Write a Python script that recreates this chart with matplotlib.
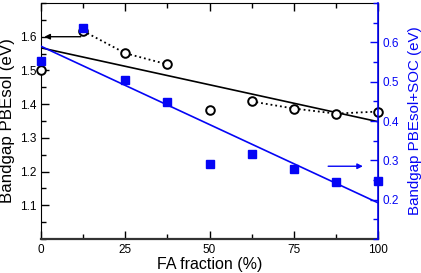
import numpy as np
import matplotlib.pyplot as plt
from matplotlib.ticker import MultipleLocator, FixedLocator

plt.rcParams['font.family'] = ['Liberation Sans', 'DejaVu Sans']

# FA fraction (%)
fa = [0, 12.5, 25, 37.5, 50, 62.5, 75, 87.5, 100]
# band gaps
gap_pbesol = [1.500, 1.617, 1.551, 1.518, 1.384, 1.408, 1.387, 1.372, 1.378]
gap_soc = [0.553, 0.637, 0.505, 0.449, 0.290, 0.315, 0.277, 0.244, 0.247]
# linear fits (end points)
fit_x = [0, 100]
fit_pbesol = [1.567, 1.348]
fit_soc = [0.590, 0.192]

blue = '#0505f5'

fig = plt.figure(figsize=(4.21, 2.73), dpi=100)
ax = fig.add_axes([0.0974, 0.1245, 0.8006, 0.8645])
ax2 = ax.twinx()

# dotted segments only where the original joins the circles
ax.plot(fa[1:4], gap_pbesol[1:4], ':', color='black', lw=1.3)
ax.plot(fa[5:], gap_pbesol[5:], ':', color='black', lw=1.3)
ax.plot(fit_x, fit_pbesol, '-', color='black', lw=1.2)
ax.plot(fa, gap_pbesol, 'o', mfc='white', mec='black', mew=1.4, ms=6.2,
        clip_on=False, zorder=5)

ax2.plot(fit_x, fit_soc, '-', color=blue, lw=1.2)
ax2.plot(fa, gap_soc, 's', color=blue, ms=5.5, clip_on=False, zorder=4)

ax.annotate('', xy=(1.0, 1.6), xytext=(11.8, 1.6),
            arrowprops=dict(arrowstyle='-|>', color='black', lw=1.0,
                            mutation_scale=8, shrinkA=0, shrinkB=0))
ax2.annotate('', xy=(95.5, 0.285), xytext=(85.2, 0.285),
             arrowprops=dict(arrowstyle='-|>', color=blue, lw=1.0,
                             mutation_scale=8, shrinkA=0, shrinkB=0))

ax.set_xlim(0, 100)
ax.set_ylim(1.0, 1.7)
ax2.set_ylim(0.1, 0.7)

ax.xaxis.set_major_locator(MultipleLocator(25))
ax.xaxis.set_minor_locator(MultipleLocator(12.5))
ax.yaxis.set_major_locator(FixedLocator([1.1, 1.2, 1.3, 1.4, 1.5, 1.6]))
ax.yaxis.set_minor_locator(MultipleLocator(0.05))
ax2.yaxis.set_major_locator(FixedLocator([0.2, 0.3, 0.4, 0.5, 0.6]))
ax2.yaxis.set_minor_locator(MultipleLocator(0.05))

ax.tick_params(axis='both', which='both', direction='in', labelsize=8.5,
               top=True, right=False, width=1.0)
ax.tick_params(which='major', length=6)
ax.tick_params(which='minor', length=3.5)
ax2.tick_params(axis='y', which='both', direction='in', labelsize=8.5,
                colors=blue, width=1.0)
ax2.tick_params(which='major', length=6)
ax2.tick_params(which='minor', length=3.5)

ax.set_xlabel('FA fraction (%)', fontsize=11.5, labelpad=1)
ax.set_ylabel('Bandgap PBEsol (eV)', fontsize=12.2, labelpad=3)
ax2.set_ylabel('Bandgap PBEsol+SOC (eV)', fontsize=10.9, color=blue, labelpad=6)

ax.spines['bottom'].set_linewidth(1.6)
ax.spines['bottom'].set_color('#333333')
ax2.spines['right'].set_color(blue)
ax2.spines['right'].set_linewidth(1.2)
ax2.spines['left'].set_visible(False)
ax2.spines['bottom'].set_visible(False)
ax2.spines['top'].set_visible(False)

fig.savefig('out.png', dpi=100)
